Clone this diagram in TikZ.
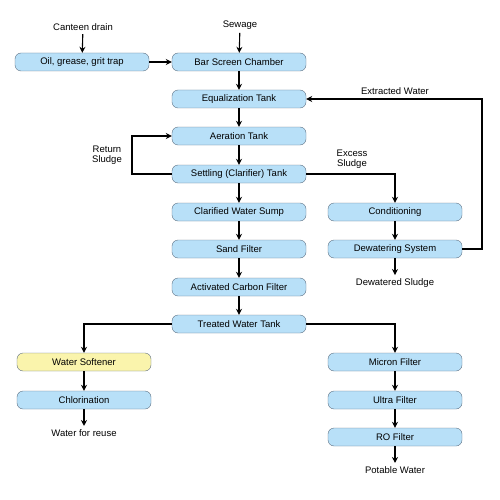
\documentclass[tikz,border=0pt]{standalone}
\usepackage{fontspec}
\setmainfont{Liberation Sans}
\usepackage{tikz}
\usetikzlibrary{arrows.meta}
\definecolor{boxblue}{RGB}{184,224,248}
\definecolor{boxyellow}{RGB}{250,244,172}
\definecolor{boxline}{RGB}{95,112,130}

\begin{document}
\begin{tikzpicture}[x=1pt,y=-1pt,
    stage/.style={draw=boxline,fill=boxblue,rounded corners=6pt,minimum width=134pt,minimum height=18pt,inner sep=0pt,font=\fontsize{9.5}{10}\selectfont},
    soft/.style={stage,fill=boxyellow},
    plain/.style={draw=none,font=\fontsize{9.5}{10}\selectfont,align=center},
    flow/.style={-{Stealth[length=6pt,width=6pt]},line width=1.1pt}]
             \useasboundingbox (0,0) rectangle (500,500);

             % inputs
             \node[plain] (canteen) at (83, 27) {Canteen drain};
             \node[plain] (sewage) at (240, 25) {Sewage};
             \node[stage] (trap) at (82, 62) {Oil, grease, grit trap};

             % main line
             \node[stage] (bar) at (239, 62) {Bar Screen Chamber};
             \node[stage] (equal) at (239, 99) {Equalization Tank};
             \node[stage] (aer) at (239, 136) {Aeration Tank};
             \node[stage] (settle) at (239, 174) {Settling (Clarifier) Tank};
             \node[stage] (sump) at (239, 212) {Clarified Water Sump};
             \node[stage] (sand) at (239, 249) {Sand Filter};
             \node[stage] (carbon) at (239, 287) {Activated Carbon Filter};
             \node[stage] (treated) at (239, 324) {Treated Water Tank};

             % sludge line
             \node[stage] (cond) at (395, 212) {Conditioning};
             \node[stage] (dewater) at (395, 249) {Dewatering System};
             \node[plain] (dsludge) at (395, 283) {Dewatered Sludge};

             % reuse line
             \node[soft] (soften) at (84, 362) {Water Softener};
             \node[stage] (chlor) at (84, 400) {Chlorination};
             \node[plain] (reuse) at (84, 433) {Water for reuse};

             % potable line
             \node[stage] (micron) at (395, 362) {Micron Filter};
             \node[stage] (ultra) at (395, 400) {Ultra Filter};
             \node[stage] (ro) at (395, 437) {RO Filter};
             \node[plain] (potable) at (395, 470) {Potable Water};

             % side labels
             \node[plain] (extracted) at (395, 91) {Extracted Water};
             \node[plain] (excess) at (352, 159) {Excess\\Sludge};
             \node[plain] (retsl) at (107, 155) {Return\\Sludge};

             \draw[flow] (canteen) -- (trap);
             \draw[flow] (sewage) -- (bar);
             \draw[flow] (trap) -- (bar);
             \draw[flow] (bar) -- (equal);
             \draw[flow] (equal) -- (aer);
             \draw[flow] (aer) -- (settle);
             \draw[flow] (settle) -- (sump);
             \draw[flow] (sump) -- (sand);
             \draw[flow] (sand) -- (carbon);
             \draw[flow] (carbon) -- (treated);

             \draw[flow] (settle.west) -- (132, 174) -- (132, 136) -- (aer.west);
             \draw[flow] (settle.east) -| (cond.north);
             \draw[flow] (cond) -- (dewater);
             \draw[flow] (dewater) -- (dsludge);
             \draw[flow] (dewater.east) -- (482, 249) -- (482, 99) -- (equal.east);

             \draw[flow] (treated.west) -| (soften.north);
             \draw[flow] (soften) -- (chlor);
             \draw[flow] (chlor) -- (reuse);
             \draw[flow] (treated.east) -| (micron.north);
             \draw[flow] (micron) -- (ultra);
             \draw[flow] (ultra) -- (ro);
             \draw[flow] (ro) -- (potable);
             \end{tikzpicture}
\end{document}
